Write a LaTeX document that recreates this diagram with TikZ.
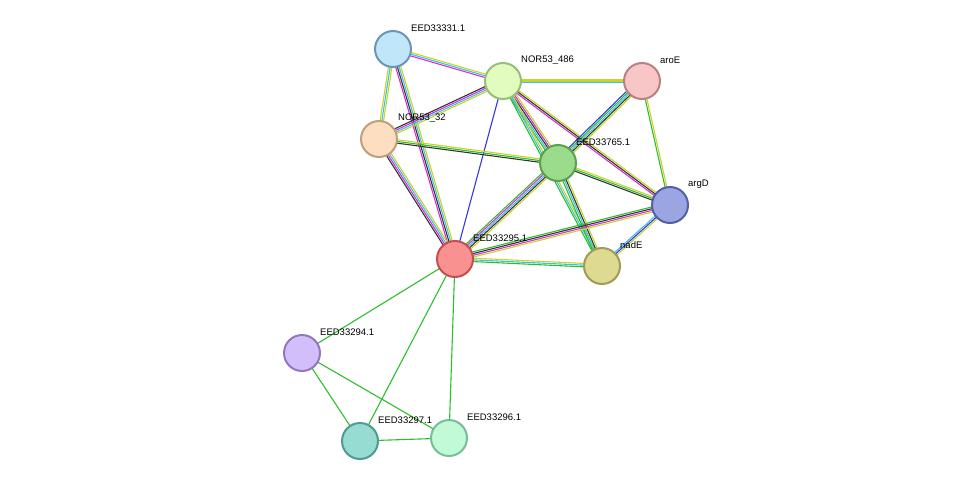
\documentclass[tikz,border=0pt]{standalone}
\usepackage{fontspec}
\setmainfont{Liberation Sans}
\usetikzlibrary{calc}
\definecolor{tm}{HTML}{C4D42A}
\definecolor{db}{HTML}{3FC1E0}
\definecolor{ex}{HTML}{D62FD6}
\definecolor{co}{HTML}{333333}
\definecolor{nb}{HTML}{2DBE2D}
\definecolor{oc}{HTML}{3535E8}
\tikzset{
 prot/.style={circle,minimum size=36pt,inner sep=0pt,line width=2pt},
 lab/.style={anchor=west,font=\fontsize{9.5}{10}\selectfont,inner sep=0pt},
}
\newcommand\medge[4]{%
 \foreach \c [count=\i] in {#4}{%
  \pgfmathsetmacro\off{(\i-(#3+1)/2)*1.7}%
  \draw[\c,line width=1.1pt] ($(#1)!\off pt!90:(#2)$) -- ($(#2)!\off pt!-90:(#1)$);
 }}
\begin{document}
\begin{tikzpicture}[x=1pt,y=-1pt]
\useasboundingbox (0,0) rectangle (976,487);
\coordinate (a) at (393,49);
\coordinate (b) at (503,81);
\coordinate (c) at (642,81);
\coordinate (d) at (379,139);
\coordinate (e) at (558,163);
\coordinate (f) at (670,205);
\coordinate (g) at (455,259);
\coordinate (h) at (602,266);
\coordinate (i) at (302,353);
\coordinate (j) at (360,441);
\coordinate (k) at (449,438);
\medge{a}{b}{3}{ex,db,tm}
\medge{a}{d}{3}{tm,db,tm}
\medge{a}{g}{4}{ex,co,db,tm}
\medge{b}{c}{3}{db,tm,tm}
\medge{b}{d}{4}{co,ex,db,tm}
\medge{b}{e}{5}{nb,db,co,ex,tm}
\medge{b}{f}{3}{ex,co,tm}
\medge{b}{h}{3}{nb,db,tm}
\medge{b}{g}{1}{oc}
\medge{c}{e}{5}{oc,nb,db,co,tm}
\medge{c}{f}{2}{nb,tm}
\medge{d}{e}{3}{co,nb,tm}
\medge{d}{g}{4}{co,ex,db,tm}
\medge{e}{f}{3}{co,nb,tm}
\medge{e}{h}{4}{nb,db,co,tm}
\medge{e}{g}{5}{nb,ex,db,co,tm}
\medge{f}{h}{3}{db,oc,tm}
\medge{f}{g}{4}{nb,co,ex,tm}
\medge{g}{h}{3}{nb,db,tm}
\medge{g}{i}{1}{nb}
\medge{g}{j}{1}{nb}
\medge{g}{k}{1}{nb}
\medge{i}{j}{1}{nb}
\medge{i}{k}{1}{nb}
\medge{j}{k}{1}{nb}
\node[prot,fill={rgb,255:red,192;green,230;blue,250},draw={rgb,255:red,110;green,150;blue,180}] (na) at (a) {};
\node[prot,fill={rgb,255:red,225;green,252;blue,190},draw={rgb,255:red,150;green,190;blue,120}] (nb) at (b) {};
\node[prot,fill={rgb,255:red,248;green,198;blue,198},draw={rgb,255:red,185;green,130;blue,130}] (nc) at (c) {};
\node[prot,fill={rgb,255:red,253;green,222;blue,192},draw={rgb,255:red,190;green,160;blue,125}] (nd) at (d) {};
\node[prot,fill={rgb,255:red,155;green,220;blue,140},draw={rgb,255:red,90;green,160;blue,80}] (ne) at (e) {};
\node[prot,fill={rgb,255:red,155;green,165;blue,225},draw={rgb,255:red,85;green,95;blue,165}] (nf) at (f) {};
\node[prot,fill={rgb,255:red,250;green,145;blue,145},draw={rgb,255:red,195;green,80;blue,80}] (ng) at (g) {};
\node[prot,fill={rgb,255:red,222;green,218;blue,145},draw={rgb,255:red,160;green,155;blue,85}] (nh) at (h) {};
\node[prot,fill={rgb,255:red,210;green,190;blue,250},draw={rgb,255:red,145;green,120;blue,190}] (ni) at (i) {};
\node[prot,fill={rgb,255:red,150;green,220;blue,210},draw={rgb,255:red,80;green,155;blue,145}] (nj) at (j) {};
\node[prot,fill={rgb,255:red,192;green,250;blue,215},draw={rgb,255:red,120;green,190;blue,150}] (nk) at (k) {};
\node[lab] (la) at (411,28) {EED33331.1};
\node[lab] (lb) at (521,60) {NOR53\_486};
\node[lab] (lc) at (660,60) {aroE};
\node[lab] (ld) at (398,118) {NOR53\_32};
\node[lab] (le) at (576,142) {EED33765.1};
\node[lab] (lf) at (688,184) {argD};
\node[lab] (lg) at (473,238) {EED33295.1};
\node[lab] (lh) at (620,245) {nadE};
\node[lab] (li) at (320,332) {EED33294.1};
\node[lab] (lj) at (378,420) {EED33297.1};
\node[lab] (lk) at (467,417) {EED33296.1};
\end{tikzpicture}
\end{document}
